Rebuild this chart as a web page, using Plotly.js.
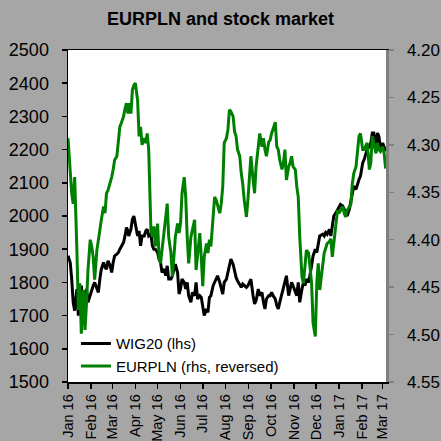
<!DOCTYPE html>
<html>
<head>
<meta charset="utf-8">
<script src="https://cdn.plot.ly/plotly-3.0.1.min.js"></script>
<style>html,body{margin:0;padding:0;background:#a6a6a6;}#chart{width:441px;height:441px;}</style>
</head>
<body>
<div id="chart"></div>
<script>
const dates = [
"2016-01-01","2016-01-04","2016-01-06","2016-01-08","2016-01-10","2016-01-13","2016-01-15","2016-01-17","2016-01-19","2016-01-22","2016-01-24","2016-01-26","2016-01-28","2016-01-31","2016-02-02","2016-02-04","2016-02-06","2016-02-09","2016-02-11","2016-02-13","2016-02-15","2016-02-18","2016-02-20","2016-02-22","2016-02-24","2016-02-27","2016-02-29","2016-03-02","2016-03-04","2016-03-07","2016-03-09","2016-03-11","2016-03-13","2016-03-16","2016-03-18","2016-03-20","2016-03-22",
"2016-03-23","2016-03-26","2016-03-28","2016-03-30","2016-04-01","2016-04-04","2016-04-06","2016-04-08","2016-04-10","2016-04-13","2016-04-15","2016-04-17","2016-04-19","2016-04-22","2016-04-24","2016-04-26","2016-04-28","2016-05-01","2016-05-03","2016-05-05","2016-05-07","2016-05-10","2016-05-12","2016-05-14","2016-05-16","2016-05-19","2016-05-21","2016-05-23","2016-05-25","2016-05-28","2016-05-30","2016-06-01","2016-06-03","2016-06-06","2016-06-08","2016-06-10","2016-06-12","2016-06-15","2016-06-17",
"2016-06-20","2016-06-22","2016-06-24","2016-06-27","2016-06-29","2016-07-01","2016-07-03","2016-07-06","2016-07-08","2016-07-10","2016-07-12","2016-07-15","2016-07-17","2016-07-19","2016-07-21","2016-07-24","2016-07-26","2016-07-28","2016-07-30","2016-08-02","2016-08-04","2016-08-06","2016-08-08","2016-08-11","2016-08-13","2016-08-15","2016-08-17","2016-08-20","2016-08-22","2016-08-24","2016-08-26","2016-08-29","2016-08-31","2016-09-02","2016-09-04","2016-09-07","2016-09-09","2016-09-11",
"2016-09-14","2016-09-16","2016-09-19","2016-09-21","2016-09-23","2016-09-25","2016-09-28","2016-09-30","2016-10-02","2016-10-04","2016-10-07","2016-10-09","2016-10-11","2016-10-13","2016-10-16","2016-10-18","2016-10-20","2016-10-22","2016-10-25","2016-10-27","2016-10-29","2016-10-31","2016-11-03","2016-11-05","2016-11-07","2016-11-09","2016-11-12","2016-11-14","2016-11-16","2016-11-18","2016-11-21","2016-11-23","2016-11-25","2016-11-27","2016-11-30","2016-12-02","2016-12-04","2016-12-06",
"2016-12-10","2016-12-12","2016-12-14","2016-12-16","2016-12-19","2016-12-21","2016-12-23","2016-12-25","2016-12-28","2016-12-30","2017-01-01","2017-01-03","2017-01-06","2017-01-08","2017-01-10","2017-01-12","2017-01-15","2017-01-17","2017-01-19","2017-01-21","2017-01-24","2017-01-26","2017-01-28","2017-01-30","2017-02-02","2017-02-04","2017-02-06","2017-02-08","2017-02-11","2017-02-13","2017-02-15","2017-02-17","2017-02-20","2017-02-22","2017-02-24","2017-02-26","2017-03-01","2017-03-03","2017-03-05"
];

const wig20 = [
1880,1860,1810,1740,1715,1780,1700,1760,1790,1720,1760,1780,1740,1765,1780,1790,1800,1780,1770,1810,1840,1860,1845,1840,1865,1850,1830,1860,1880,1885,1890,1900,1910,1920,1940,1965,1955,
1940,1960,1990,2000,1980,1940,1955,1910,1940,1940,1955,1960,1940,1945,1910,1900,1900,1890,1870,1860,1830,1840,1820,1850,1810,1810,1820,1840,1855,1830,1765,1780,1810,1800,1780,1800,1760,1740,1770,
1760,1800,1750,1760,1755,1730,1700,1720,1710,1755,1760,1790,1800,1810,1820,1800,1780,1765,1800,1810,1830,1850,1870,1855,1830,1815,1805,1790,1785,1795,1790,1785,1790,1800,1810,1760,1735,1745,
1780,1760,1770,1740,1720,1750,1760,1760,1770,1760,1750,1730,1720,1740,1770,1790,1810,1820,1760,1780,1800,1790,1770,1760,1800,1740,1780,1800,1790,1810,1800,1820,1850,1880,1900,1890,1920,1940,
1945,1940,1950,1945,1960,1940,1970,2000,2010,2020,2030,2035,2030,2020,2010,2000,2020,2040,2070,2090,2080,2100,2110,2120,2160,2170,2190,2200,2210,2220,2250,2250,2210,2250,2240,2200,2220,2205,2195
];

const eurpln = [
4.293,4.334,4.351,4.362,4.334,4.411,4.474,4.446,4.499,4.453,4.495,4.467,4.432,4.400,4.407,4.418,4.442,4.411,4.397,4.390,4.379,4.365,4.372,4.351,4.348,4.341,4.334,4.326,4.316,4.312,4.298,4.281,4.277,4.270,4.262,4.256,4.267,
4.256,4.267,4.242,4.237,4.235,4.253,4.291,4.281,4.300,4.293,4.298,4.288,4.305,4.390,4.397,4.386,4.407,4.383,4.418,4.425,4.411,4.397,4.379,4.362,4.397,4.414,4.439,4.411,4.397,4.383,4.393,4.383,4.351,4.334,4.355,4.397,4.425,4.397,4.390,
4.379,4.432,4.414,4.393,4.418,4.449,4.418,4.404,4.414,4.400,4.407,4.379,4.355,4.358,4.365,4.372,4.362,4.344,4.298,4.293,4.284,4.263,4.265,4.270,4.286,4.291,4.305,4.312,4.330,4.341,4.358,4.376,4.358,4.337,4.312,4.337,4.351,4.323,
4.305,4.288,4.302,4.293,4.305,4.312,4.297,4.295,4.288,4.284,4.276,4.302,4.305,4.316,4.326,4.319,4.305,4.337,4.323,4.319,4.312,4.323,4.326,4.344,4.355,4.397,4.439,4.446,4.432,4.411,4.414,4.432,4.446,4.488,4.502,4.446,4.425,4.453,
4.425,4.414,4.409,4.404,4.402,4.399,4.418,4.404,4.379,4.369,4.372,4.369,4.365,4.372,4.376,4.369,4.365,4.363,4.341,4.330,4.323,4.309,4.291,4.288,4.305,4.305,4.302,4.298,4.326,4.319,4.291,4.298,4.309,4.298,4.305,4.307,4.302,4.309,4.325
];

const seriesNames = ["WIG20 (lhs)", "EURPLN (rhs, reversed)"];
const titleText = "EURPLN and stock market";

const FONT = "Arial, 'Liberation Sans', sans-serif";

const traces = [
  {x: dates, y: wig20, name: seriesNames[0], type: 'scatter', mode: 'lines',
   line: {color: '#000000', width: 3}, yaxis: 'y'},
  {x: dates, y: eurpln, name: seriesNames[1], type: 'scatter', mode: 'lines',
   line: {color: '#008000', width: 3}, yaxis: 'y2'}
];

const layout = {
  width: 441, height: 441,
  paper_bgcolor: '#a6a6a6', plot_bgcolor: '#ffffff',
  margin: {l: 68, r: 55, t: 50, b: 59, pad: 0},
  font: {family: FONT, color: '#000000'},
  title: {text: '<b>' + titleText + '</b>', font: {family: FONT, size: 18, color: '#000'},
          x: 0.5, xanchor: 'center', y: 0.958, yanchor: 'middle', yref: 'container'},
  showlegend: true,
  legend: {x: 0.025, xanchor: 'left', y: 0.165, yanchor: 'top', bgcolor: 'rgba(0,0,0,0)',
           font: {family: FONT, size: 15, color: '#000'}, tracegroupgap: 0},
  xaxis: {type: 'date', range: ['2016-01-01', '2017-03-05 12:00'],
          tickmode: 'linear', tick0: '2016-01-01', dtick: 'M1', tickformat: '%b %y',
          tickangle: -90, ticks: 'outside', ticklen: 5, tickwidth: 1.5, tickcolor: '#000',
          showline: true, linecolor: '#000', linewidth: 1.5, mirror: true,
          showgrid: false, zeroline: false, ticklabelstandoff: 0,
          tickfont: {family: FONT, size: 14.5, color: '#000'}},
  yaxis: {range: [1500, 2500], tickmode: 'linear', tick0: 1500, dtick: 100,
          ticks: 'outside', ticklen: 5, tickwidth: 1.5, tickcolor: '#000',
          showline: true, linecolor: '#000', linewidth: 1.5,
          showgrid: false, zeroline: false, ticklabelstandoff: 9,
          tickfont: {family: FONT, size: 18, color: '#000'}},
  yaxis2: {overlaying: 'y', side: 'right', range: [4.55, 4.20], tickmode: 'linear', tick0: 4.20, dtick: 0.05,
           tickformat: '.2f', ticks: 'outside', ticklen: 5, tickwidth: 1.5, tickcolor: '#808080',
           showline: true, linecolor: '#808080', linewidth: 2.5,
           showgrid: false, zeroline: false, ticklabelstandoff: 10,
           tickfont: {family: FONT, size: 17, color: '#000'}}
};

Plotly.newPlot('chart', traces, layout, {displayModeBar: false, staticPlot: true});
</script>
</body>
</html>
